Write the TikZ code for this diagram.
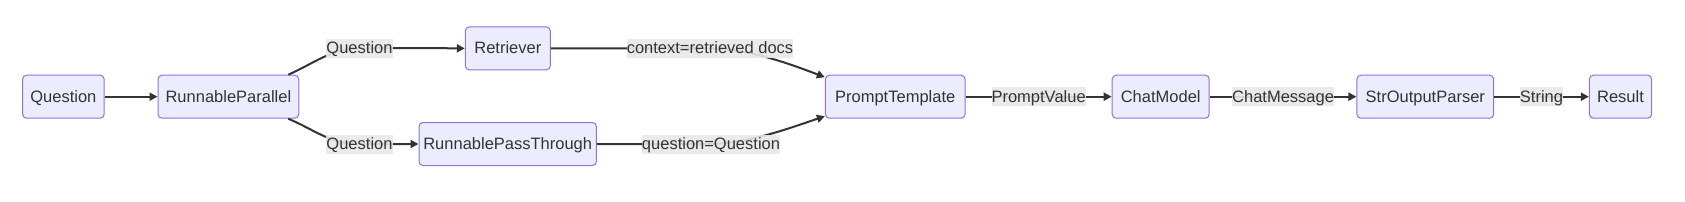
\documentclass[tikz,border=0pt]{standalone}
\usepackage{fontspec}
\setmainfont{Liberation Sans}
\usetikzlibrary{arrows.meta,calc}
\definecolor{nodefill}{HTML}{ECECFF}
\definecolor{nodeborder}{HTML}{9370DB}
\definecolor{lblbg}{HTML}{E8E8E8}
\definecolor{ink}{HTML}{333333}
\tikzset{
  box/.style={draw=nodeborder,fill=nodefill,line width=1pt,rounded corners=4pt,
    minimum height=43pt,inner sep=0pt,text height=13pt,text depth=2pt,text=ink,
    font=\fontsize{16.5}{19}\selectfont},
  lbl/.style={fill=lblbg,fill opacity=0.9,text opacity=1,inner xsep=0pt,inner ysep=0pt,
    text height=15pt,text depth=4pt,text=ink,font=\fontsize{16.5}{19}\selectfont},
  edge/.style={draw=ink,line width=2pt,-{Triangle[length=8pt,width=8pt]}},
}
\begin{document}
\begin{tikzpicture}[x=1pt,y=-1pt]
\fill[white] (0,0) rectangle (1685,201);
\useasboundingbox (0,0) rectangle (1685,201);
% nodes
\node[box,minimum width=81.6pt]  (q)   at (63.4,96.7)  {Question};
\node[box,minimum width=140.7pt] (rp)  at (228.4,96.7) {RunnableParallel};
\node[box,minimum width=85pt]    (retr) at (507.8,48.4) {Retriever};
\node[box,minimum width=177.4pt] (rpt) at (507.7,144)  {RunnablePassThrough};
\node[box,minimum width=139.7pt] (pt)  at (895.2,96.7) {PromptTemplate};
\node[box,minimum width=97pt]    (cm)  at (1160.7,96.7) {ChatModel};
\node[box,minimum width=136.7pt] (sop) at (1425.3,96.7) {StrOutputParser};
\node[box,minimum width=62.3pt]  (res) at (1620.5,96.7) {Result};
% label anchor points
\coordinate (c1) at (359.5,48.4);
\coordinate (c2) at (359.5,144);
\coordinate (c3) at (710,48.4);
\coordinate (c4) at (711,144);
% edges
\draw[edge] (q) -- (rp);
\draw[edge] ($(rp.north east)+(-11,0)$) .. controls (315,63) and (330,49) .. (c1)
   .. controls (400,48) and (420,48) .. (retr.west);
\draw[edge] ($(rp.south east)+(-11,0)$) .. controls (315,130) and (330,144) .. (c2)
   -- (rpt.west);
\draw[edge] (retr.east) -- (c3) .. controls (750,49) and (790,64) .. ($(pt.north west)+(0,2.5)$);
\draw[edge] (rpt.east) -- (c4) .. controls (750,143) and (790,128) .. ($(pt.south west)+(0,-2.5)$);
\draw[edge] (pt) -- node[lbl] (l5) {PromptValue} (cm);
\draw[edge] (cm) -- node[lbl] (l6) {ChatMessage} (sop);
\draw[edge] (sop) -- node[lbl] (l7) {String} (res);
% labels on curved edges
\node[lbl] (l1) at (c1) {Question};
\node[lbl] (l2) at (c2) {Question};
\node[lbl] (l3) at (c3) {context=retrieved docs};
\node[lbl] (l4) at (c4) {question=Question};
\end{tikzpicture}
\end{document}
